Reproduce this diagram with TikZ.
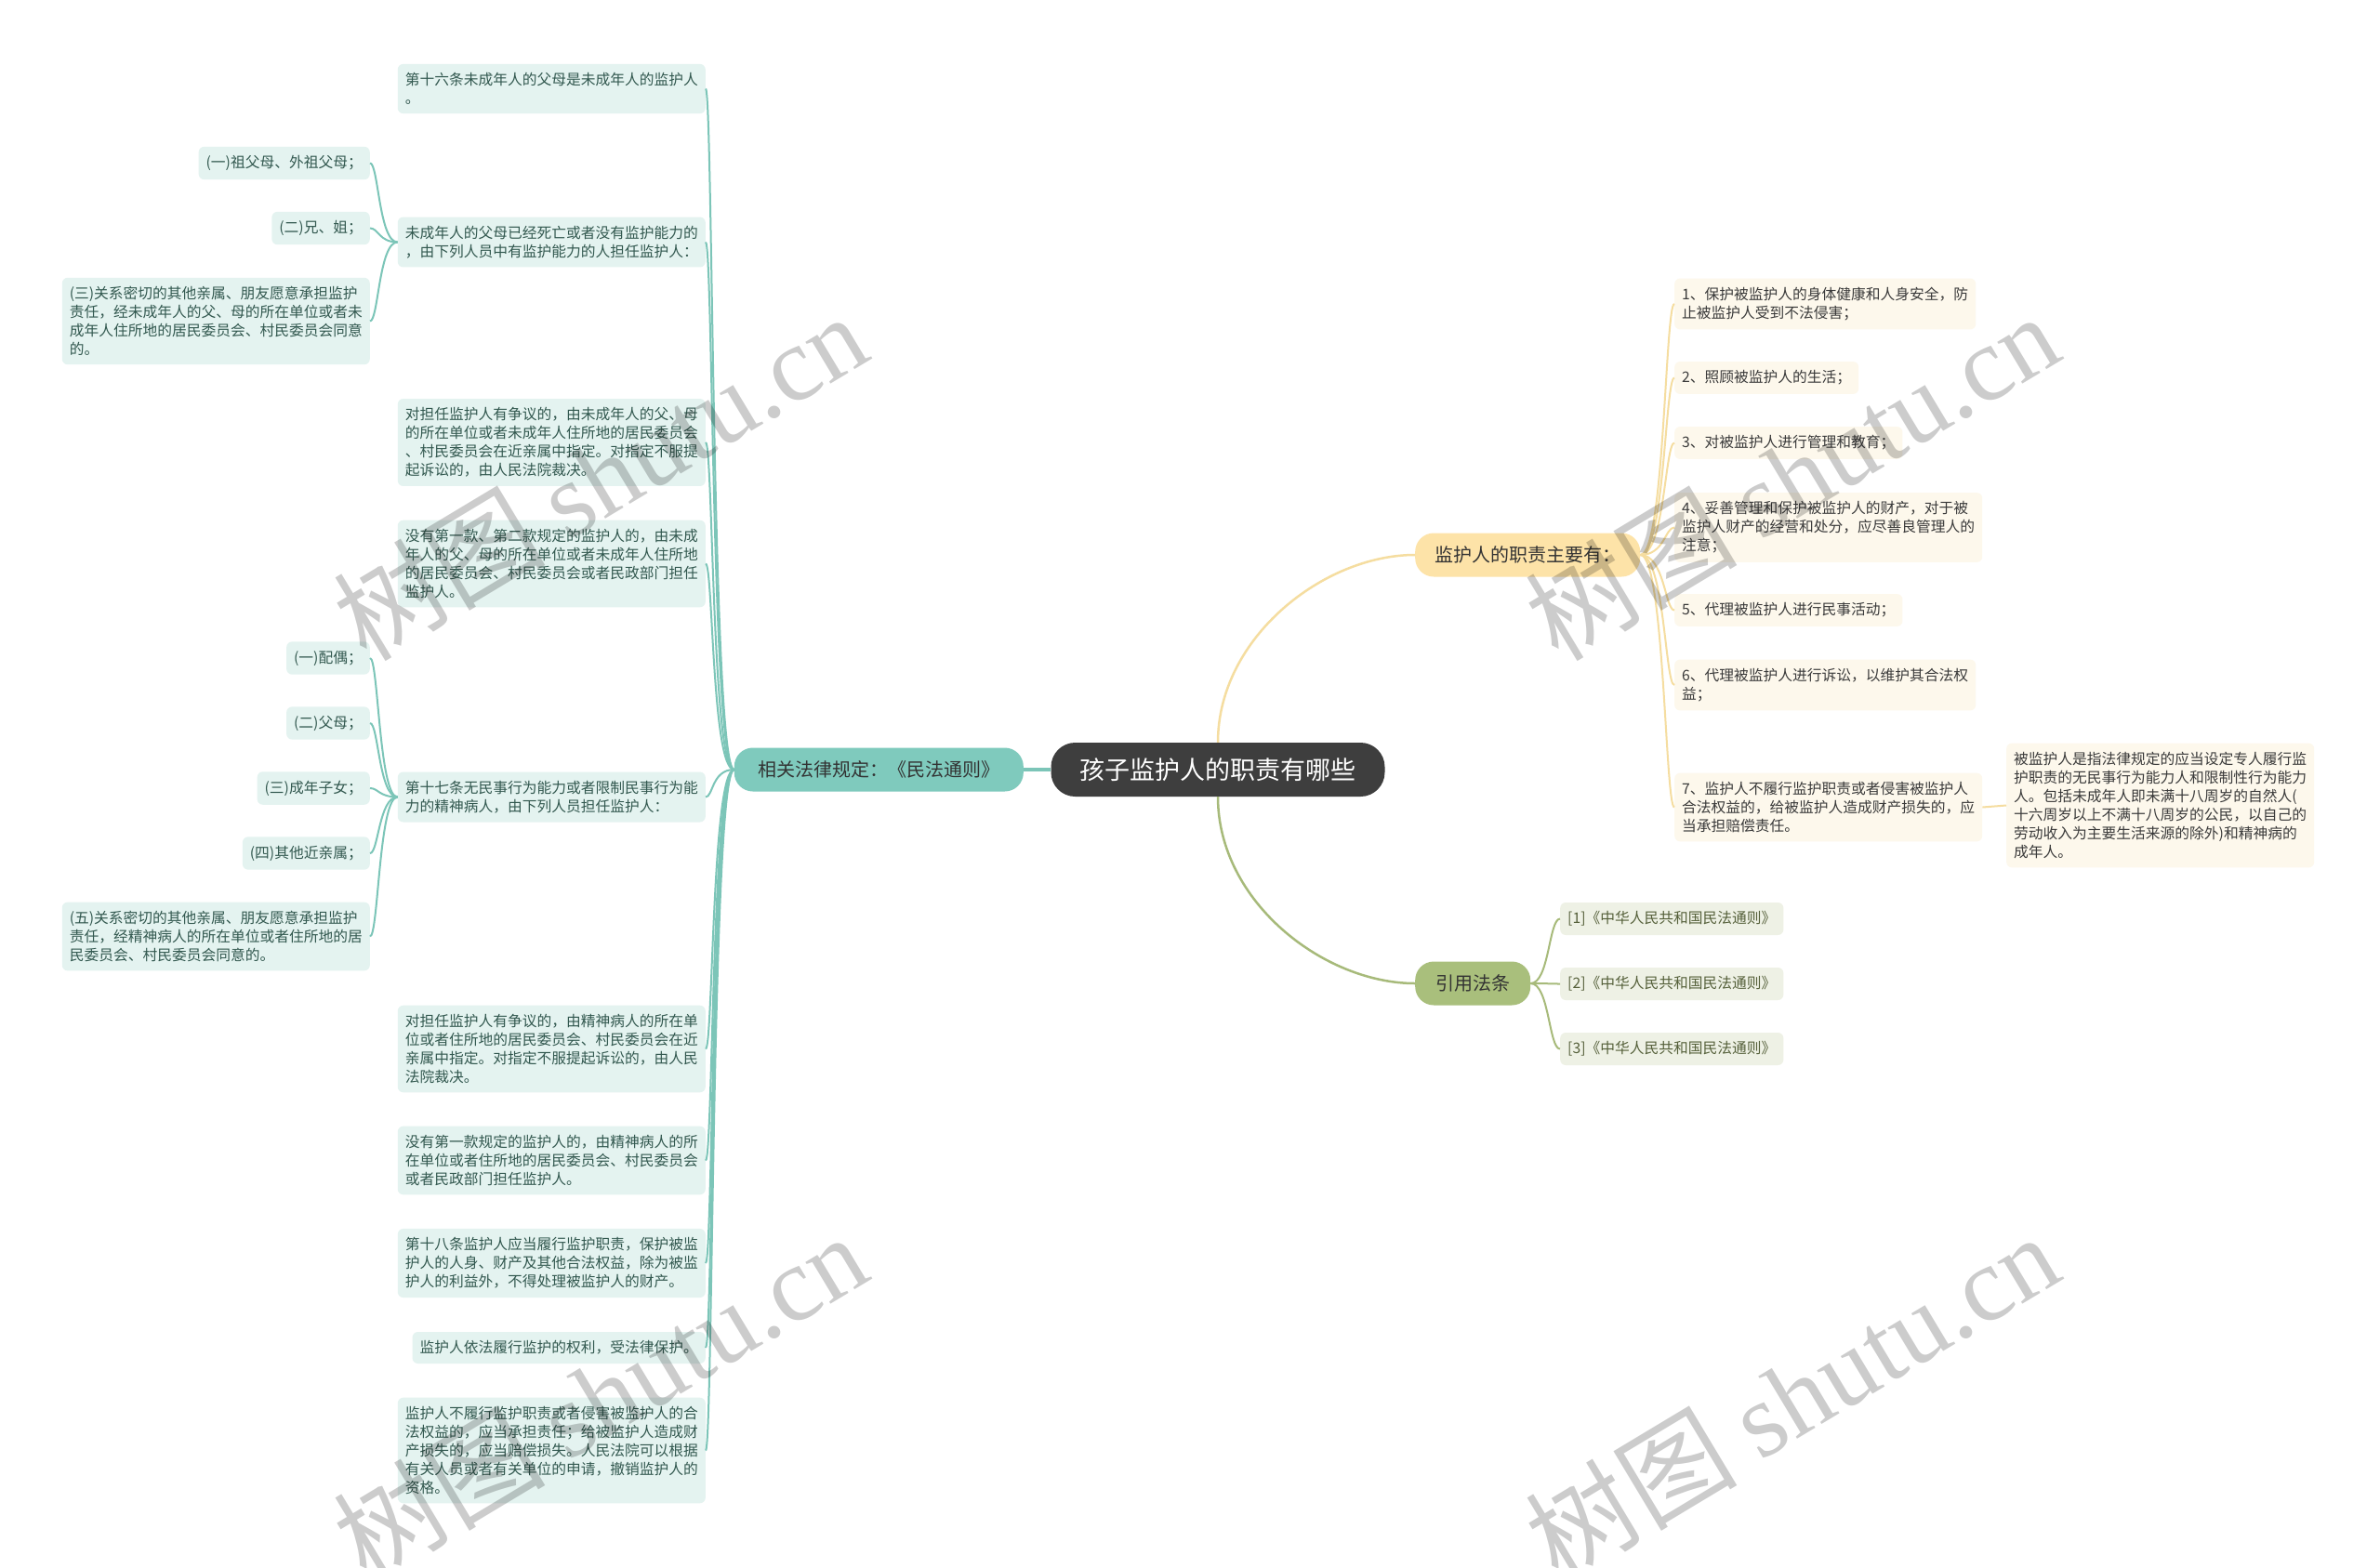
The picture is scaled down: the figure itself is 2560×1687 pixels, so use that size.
\documentclass[tikz,border=0pt]{standalone}
\usepackage{fontspec}
\setmainfont{Noto Sans CJK SC}
\newfontfamily\wmfont{Liberation Serif}
\usepackage{tikz}
\usetikzlibrary{positioning}
\usepackage{xcolor}

\definecolor{rootfill}{HTML}{3E3E3E}
\definecolor{lawfill}{HTML}{7FCABD}
\definecolor{lawleaf}{HTML}{E4F3F0}
\definecolor{lawtext}{HTML}{32584F}
\definecolor{lawline}{HTML}{7CC5B8}
\definecolor{dutyfill}{HTML}{FDE3A8}
\definecolor{dutyleaf}{HTML}{FDF8EC}
\definecolor{dutyline}{HTML}{F5DDA0}
\definecolor{dutytext}{HTML}{3A3A3A}
\definecolor{citefill}{HTML}{A9BF7C}
\definecolor{citeleaf}{HTML}{EEF1E5}
\definecolor{citeline}{HTML}{A7BA7A}
\definecolor{citetext}{HTML}{55603A}

\begin{document}
\begin{tikzpicture}[
  x=1pt, y=-1pt,
  root/.style={rectangle, rounded corners=26pt, fill=rootfill, text=white, font=\fontsize{27}{32}\selectfont, minimum width=359pt, minimum height=58pt},
  branch/.style={rectangle, rounded corners=20pt, minimum height=47pt, text=black!80, font=\fontsize{20}{24}\selectfont},
  leaf/.style={rectangle, rounded corners=6pt, align=left, inner xsep=8pt, inner ysep=9.5pt, font=\fontsize{15.75}{20}\selectfont},
  lawbox/.style={leaf, fill=lawleaf, text=lawtext, anchor=east},
  dutybox/.style={leaf, fill=dutyleaf, text=dutytext, anchor=west},
  citebox/.style={leaf, fill=citeleaf, text=citetext, anchor=west},
  lawedge/.style={draw=lawline, line width=2pt},
  dutyedge/.style={draw=dutyline, line width=2pt},
  citeedge/.style={draw=citeline, line width=2pt},
  wm/.style={font=\fontsize{114}{114}\selectfont, text=black, text opacity=0.2, rotate=31},
]
\useasboundingbox[fill=white] (0,0) rectangle (2560,1687);

% Root
\node[root] (root) at (1310,828) {孩子监护人的职责有哪些};

% Branches
\node[branch, fill=lawfill, minimum width=311pt, anchor=east] (law) at (1101,828) {相关法律规定：《民法通则》};
\node[branch, fill=dutyfill, minimum width=242pt, anchor=west] (duty) at (1522,597) {监护人的职责主要有：};
\node[branch, fill=citefill, minimum width=124pt, anchor=west] (cite) at (1522,1058) {引用法条};

% Legal provisions
\node[lawbox] (law1) at (759,95.5) {第十六条未成年人的父母是未成年人的监护人\\。};
\node[lawbox] (law2) at (759,260.5) {未成年人的父母已经死亡或者没有监护能力的\\，由下列人员中有监护能力的人担任监护人：};
\node[lawbox] (law3) at (759,476) {对担任监护人有争议的，由未成年人的父、母\\的所在单位或者未成年人住所地的居民委员会\\、村民委员会在近亲属中指定。对指定不服提\\起诉讼的，由人民法院裁决。};
\node[lawbox] (law4) at (759,606.5) {没有第一款、第二款规定的监护人的，由未成\\年人的父、母的所在单位或者未成年人住所地\\的居民委员会、村民委员会或者民政部门担任\\监护人。};
\node[lawbox] (law5) at (759,857.5) {第十七条无民事行为能力或者限制民事行为能\\力的精神病人，由下列人员担任监护人：};
\node[lawbox] (law6) at (759,1128.5) {对担任监护人有争议的，由精神病人的所在单\\位或者住所地的居民委员会、村民委员会在近\\亲属中指定。对指定不服提起诉讼的，由人民\\法院裁决。};
\node[lawbox] (law7) at (759,1248.5) {没有第一款规定的监护人的，由精神病人的所\\在单位或者住所地的居民委员会、村民委员会\\或者民政部门担任监护人。};
\node[lawbox] (law8) at (759,1359) {第十八条监护人应当履行监护职责，保护被监\\护人的人身、财产及其他合法权益，除为被监\\护人的利益外，不得处理被监护人的财产。};
\node[lawbox] (law9) at (759,1450) {监护人依法履行监护的权利，受法律保护。};
\node[lawbox] (law10) at (759,1560.5) {监护人不履行监护职责或者侵害被监护人的合\\法权益的，应当承担责任；给被监护人造成财\\产损失的，应当赔偿损失。人民法院可以根据\\有关人员或者有关单位的申请，撤销监护人的\\资格。};

% Guardians of minors
\node[lawbox] (kin1) at (398,175.5) {(一)祖父母、外祖父母；};
\node[lawbox] (kin2) at (398,245.5) {(二)兄、姐；};
\node[lawbox] (kin3) at (398,345.5) {(三)关系密切的其他亲属、朋友愿意承担监护\\责任，经未成年人的父、母的所在单位或者未\\成年人住所地的居民委员会、村民委员会同意\\的。};

% Guardians of the mentally ill
\node[lawbox] (ill1) at (398,708) {(一)配偶；};
\node[lawbox] (ill2) at (398,778) {(二)父母；};
\node[lawbox] (ill3) at (398,848) {(三)成年子女；};
\node[lawbox] (ill4) at (398,918) {(四)其他近亲属；};
\node[lawbox] (ill5) at (398,1007.5) {(五)关系密切的其他亲属、朋友愿意承担监护\\责任，经精神病人的所在单位或者住所地的居\\民委员会、村民委员会同意的。};

% Duties
\node[dutybox] (duty1) at (1801,327) {1、保护被监护人的身体健康和人身安全，防\\止被监护人受到不法侵害；};
\node[dutybox] (duty2) at (1801,406.5) {2、照顾被监护人的生活；};
\node[dutybox] (duty3) at (1801,476.5) {3、对被监护人进行管理和教育；};
\node[dutybox] (duty4) at (1801,567.5) {4、妥善管理和保护被监护人的财产，对于被\\监护人财产的经营和处分，应尽善良管理人的\\注意；};
\node[dutybox] (duty5) at (1801,656.5) {5、代理被监护人进行民事活动；};
\node[dutybox] (duty6) at (1801,737) {6、代理被监护人进行诉讼，以维护其合法权\\益；};
\node[dutybox] (duty7) at (1801,868.5) {7、监护人不履行监护职责或者侵害被监护人\\合法权益的，给被监护人造成财产损失的，应\\当承担赔偿责任。};
\node[dutybox] (ward) at (2158,866.5) {被监护人是指法律规定的应当设定专人履行监\\护职责的无民事行为能力人和限制性行为能力\\人。包括未成年人即未满十八周岁的自然人(\\十六周岁以上不满十八周岁的公民，以自己的\\劳动收入为主要生活来源的除外)和精神病的\\成年人。};

% Cited articles
\node[citebox] (cite1) at (1678,988.5) {[1]《中华人民共和国民法通则》};
\node[citebox] (cite2) at (1678,1058.5) {[2]《中华人民共和国民法通则》};
\node[citebox] (cite3) at (1678,1128.5) {[3]《中华人民共和国民法通则》};

% Connectors
\draw[lawedge, line width=4pt] (root.west) -- (law.east);
\draw[dutyedge, line width=2.5pt] (root.north) .. controls +(0,-113) and +(-98,0) .. (duty.west);
\draw[citeedge, line width=2.5pt] (root.south) .. controls +(0,113) and +(-98,0) .. (cite.west);

\foreach \i in {1,...,10}
  \draw[lawedge] (law.west) .. controls +(-24,0) and +(8,0) .. (law\i.east);
\foreach \i in {1,2,3}
  \draw[lawedge] (law2.west) .. controls +(-20,0) and +(9,0) .. (kin\i.east);
\foreach \i in {1,...,5}
  \draw[lawedge] (law5.west) .. controls +(-20,0) and +(9,0) .. (ill\i.east);
\foreach \i in {1,...,7}
  \draw[dutyedge] (duty.east) .. controls +(26,0) and +(-10,0) .. (duty\i.west);
\draw[dutyedge] (duty7.east) -- (ward.west);
\foreach \i in {1,2,3}
  \draw[citeedge] (cite.east) .. controls +(20,0) and +(-12,0) .. (cite\i.west);

% Watermarks
\node[wm] (wm1) at (645,512) {树图 {\wmfont shutu.cn}};
\node[wm] (wm2) at (1927,512) {树图 {\wmfont shutu.cn}};
\node[wm] (wm3) at (645,1502) {树图 {\wmfont shutu.cn}};
\node[wm] (wm4) at (1927,1502) {树图 {\wmfont shutu.cn}};

\end{tikzpicture}
\end{document}
